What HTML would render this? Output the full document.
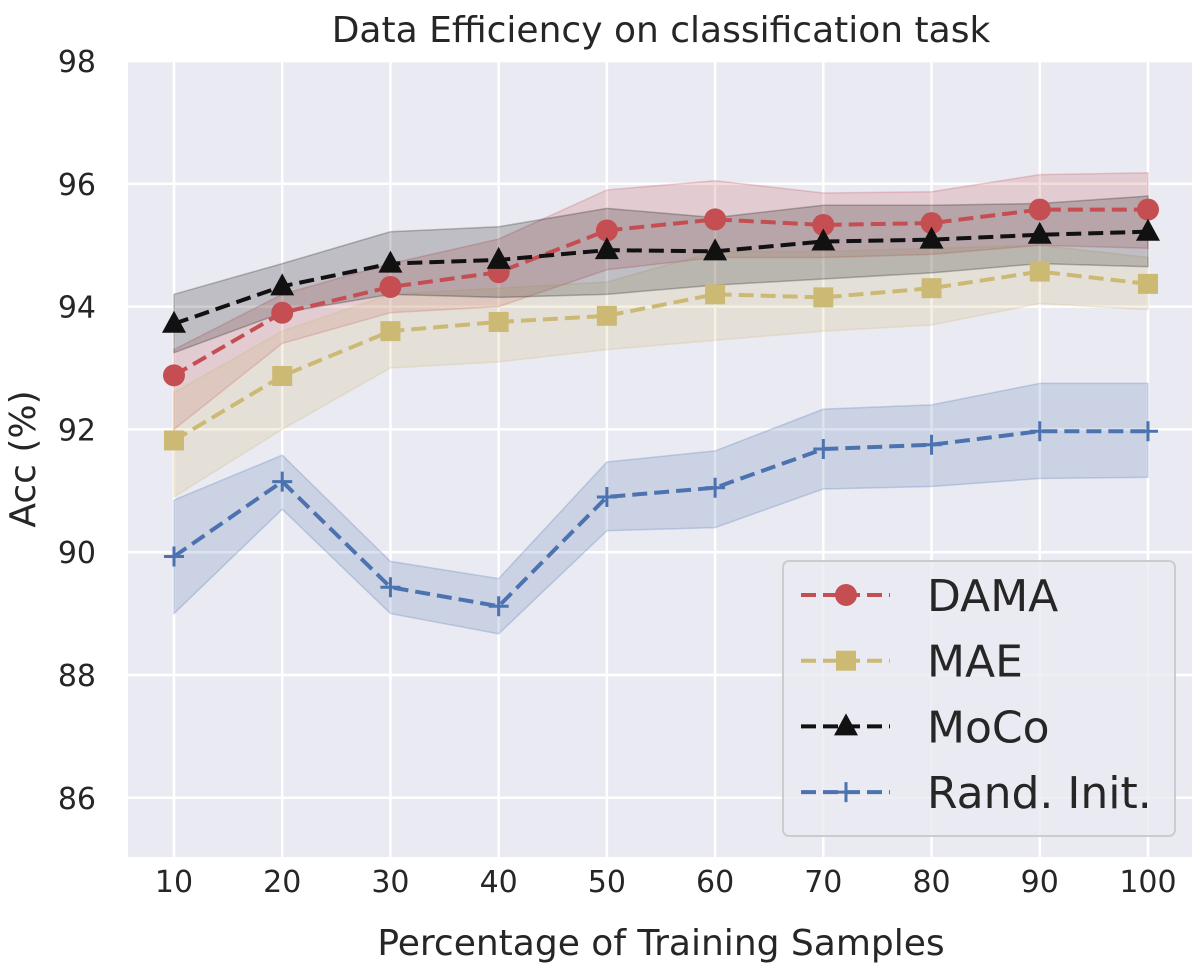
<!DOCTYPE html>
<html><head><meta charset="utf-8"><style>
html,body{margin:0;padding:0;background:#fff;}
svg text{font-family:"DejaVu Sans","Liberation Sans",sans-serif;fill:#262626;}
</style></head><body>
<svg id="chart" width="1204" height="969" xmlns="http://www.w3.org/2000/svg">
<text x="661" y="42" font-size="36" text-anchor="middle">Data Efficiency on classification task</text>
<rect x="128" y="61" width="1064" height="796" fill="#eaeaf2"/>
<g id="grid"></g><g id="bands"></g><g id="lines"></g><g id="ticks"></g>
<text x="661" y="955" font-size="36" text-anchor="middle">Percentage of Training Samples</text>
<text transform="translate(35,459) rotate(-90)" font-size="36" text-anchor="middle">Acc (%)</text>
<g>
<rect x="783" y="561" width="392" height="275" rx="6" fill="#eaeaf2" fill-opacity="0.8" stroke="#cccccc" stroke-width="2"/>
<g id="legend"></g>
</g>
</svg>
<script>
const categories=[10,20,30,40,50,60,70,80,90,100];
const yTicks=[86,88,90,92,94,96,98];
const seriesNames=["DAMA","MAE","MoCo","Rand. Init."];
const damaMean=[92.88,93.9,94.32,94.56,95.24,95.42,95.33,95.36,95.58,95.58];
const damaLo=[92.0,93.4,93.9,94.0,94.6,94.8,94.8,94.85,95.0,94.95];
const damaHi=[93.3,94.2,94.7,95.1,95.9,96.05,95.85,95.87,96.15,96.18];
const maeMean=[91.82,92.87,93.6,93.75,93.85,94.2,94.15,94.3,94.57,94.37];
const maeLo=[90.9,92.0,93.0,93.1,93.3,93.45,93.6,93.7,94.05,93.95];
const maeHi=[92.6,93.6,94.2,94.3,94.4,94.9,94.9,94.95,95.0,94.8];
const mocoMean=[93.72,94.33,94.7,94.76,94.92,94.9,95.06,95.09,95.17,95.22];
const mocoLo=[93.25,93.9,94.2,94.15,94.2,94.35,94.45,94.55,94.7,94.65];
const mocoHi=[94.2,94.7,95.22,95.3,95.6,95.45,95.65,95.65,95.68,95.8];
const randMean=[89.93,91.15,89.43,89.12,90.9,91.05,91.68,91.75,91.97,91.97];
const randLo=[89.0,90.7,89.0,88.67,90.35,90.4,91.03,91.07,91.2,91.22];
const randHi=[90.85,91.58,89.85,89.57,91.47,91.65,92.33,92.4,92.75,92.75];

const NS="http://www.w3.org/2000/svg";
const xs=v=>174+(v-10)*10.822;
const ys=v=>61+(98-v)*61.4;
function mk(tag,attrs,parent){const e=document.createElementNS(NS,tag);for(const k in attrs)e.setAttribute(k,attrs[k]);parent.appendChild(e);return e;}
const grid=document.getElementById('grid'),ticks=document.getElementById('ticks');
yTicks.forEach(t=>{
  const l=mk('line',{x1:128,x2:1192,y1:ys(t),y2:ys(t),stroke:'#fff','stroke-width':2.5},grid);
  
  
  const tx=mk('text',{x:96,y:ys(t)+11,'font-size':30,'text-anchor':'end'},ticks);
  tx.textContent=t;
  
  
});
categories.forEach(c=>{
  const l=mk('line',{x1:xs(c),x2:xs(c),y1:61,y2:857,stroke:'#fff','stroke-width':2.5},grid);
  
  
  const tx=mk('text',{x:xs(c),y:892,'font-size':30,'text-anchor':'middle'},ticks);
  tx.textContent=c;
  
  
});
const series=[
 {name:'dama',color:'#c44e52',mean:damaMean,lo:damaLo,hi:damaHi,marker:'circle'},
 {name:'mae',color:'#ccb974',mean:maeMean,lo:maeLo,hi:maeHi,marker:'square'},
 {name:'moco',color:'#111111',mean:mocoMean,lo:mocoLo,hi:mocoHi,marker:'triangle'},
 {name:'rand-init',color:'#4c72b0',mean:randMean,lo:randLo,hi:randHi,marker:'plus'}
];
function marker(type,x,y,color,g){
  let e;
  if(type==='circle')e=mk('circle',{cx:x,cy:y,r:11,fill:color},g);
  else if(type==='square')e=mk('rect',{x:x-10,y:y-10,width:20,height:20,fill:color},g);
  else if(type==='triangle')e=mk('polygon',{points:`${x},${y-13} ${x-12},${y+9} ${x+12},${y+9}`,fill:color},g);
  else e=mk('path',{d:`M${x-10},${y}H${x+10}M${x},${y-10}V${y+10}`,stroke:color,'stroke-width':3,fill:'none'},g);
  return e;
}
const bands=document.getElementById('bands'),lines=document.getElementById('lines');
series.forEach(s=>{
  let d='M'+categories.map((c,i)=>xs(c)+','+ys(s.hi[i])).join('L');
  d+='L'+categories.slice().reverse().map((c,j)=>{const i=categories.length-1-j;return xs(c)+','+ys(s.lo[i]);}).join('L')+'Z';
  const b=mk('path',{d:d,fill:s.color,'fill-opacity':0.2,stroke:s.color,'stroke-opacity':0.25,'stroke-width':1.5},bands);
  
  
});
series.forEach(s=>{
  const g=mk('g',{},lines);
  
  
  const pl=mk('polyline',{points:categories.map((c,i)=>xs(c)+','+ys(s.mean[i])).join(' '),fill:'none',stroke:s.color,'stroke-width':4,'stroke-dasharray':'15,7'},g);
  
  
  categories.forEach((c,i)=>{
    const m=marker(s.marker,xs(c),ys(s.mean[i]),s.color,g);
    
    
  });
});
const lg=document.getElementById('legend');
series.forEach((s,i)=>{
  const y=595+i*65.7;
  const g=mk('g',{},lg);
  
  
  mk('line',{x1:801,x2:890,y1:y,y2:y,stroke:s.color,'stroke-width':4,'stroke-dasharray':'15,7'},g);
  marker(s.marker,846,y,s.color,g);
  const t=mk('text',{x:927,y:y+16,'font-size':44},g);
  t.textContent=seriesNames[i];
});
</script>
</body></html>
